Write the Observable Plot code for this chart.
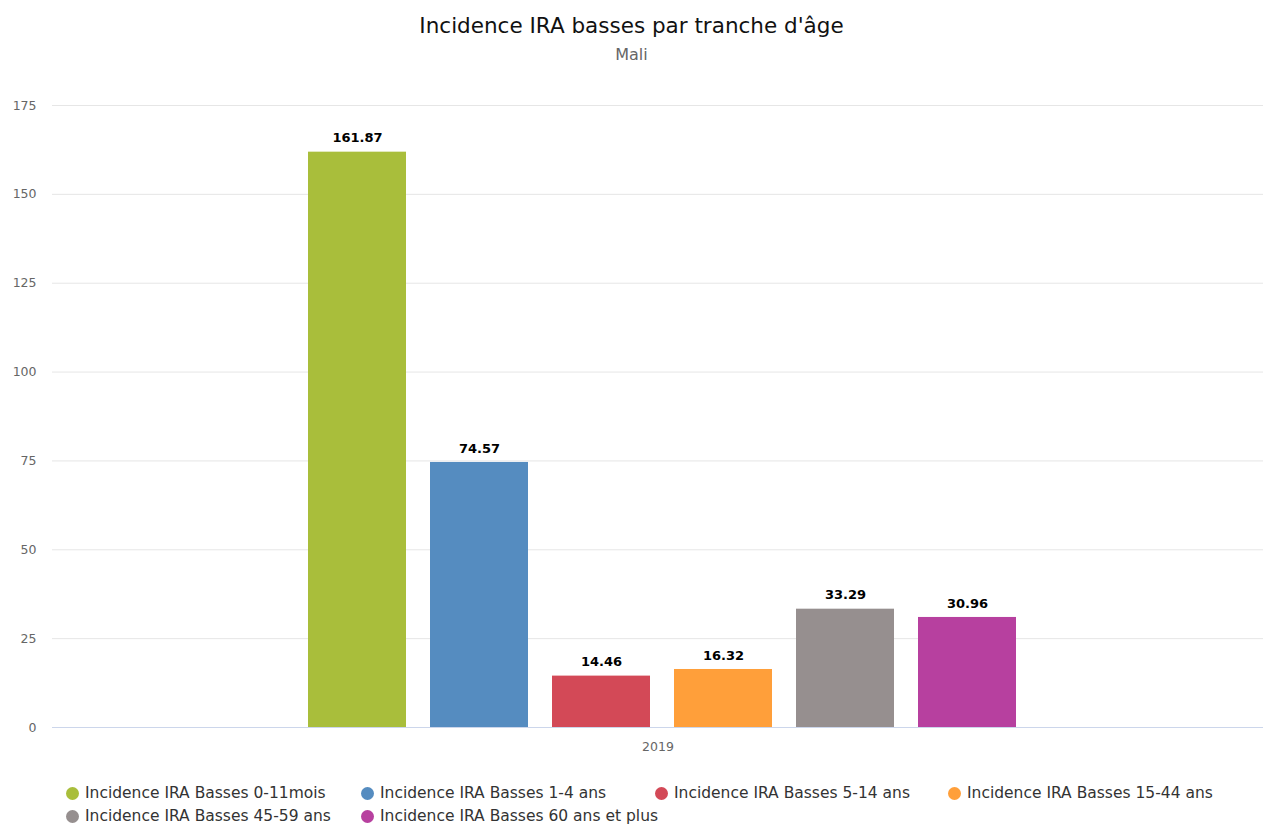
<!DOCTYPE html>
<html>
<head>
<meta charset="utf-8">
<script src="https://cdn.jsdelivr.net/npm/d3@7"></script>
<script src="https://cdn.jsdelivr.net/npm/@observablehq/plot@0.6"></script>
<style>
  body { margin: 0; background: #fff; font-family: "DejaVu Sans", sans-serif; }
  #wrap { position: relative; width: 1263px; height: 827px; }
  #title { position: absolute; top: 13px; left: 0; width: 1263px; text-align: center; font-size: 21.5px; color: #111; }
  #subtitle { position: absolute; top: 45px; left: 0; width: 1263px; text-align: center; font-size: 16px; color: #666; }
  #chart { position: absolute; top: 80px; left: 0; }
  #legend { position: absolute; top: 783px; left: 66px; display: grid; grid-template-columns: 295px 294px 293px 300px; row-gap: 3px; font-size: 15.5px; color: #333; }
  .item { display: flex; align-items: center; white-space: nowrap; height: 20px; }
  .dot { width: 13px; height: 13px; border-radius: 50%; margin-right: 6px; flex: none; }
</style>
</head>
<body>
<div id="wrap">
  <div id="title">Incidence IRA basses par tranche d'âge</div>
  <div id="subtitle">Mali</div>
  <div id="chart"></div>
  <div id="legend"></div>
</div>
<script>
const period = "2019";
const series = [
  "Incidence IRA Basses 0-11mois",
  "Incidence IRA Basses 1-4 ans",
  "Incidence IRA Basses 5-14 ans",
  "Incidence IRA Basses 15-44 ans",
  "Incidence IRA Basses 45-59 ans",
  "Incidence IRA Basses 60 ans et plus"
];
const values = [161.87, 74.57, 14.46, 16.32, 33.29, 30.96];
const colors = ["#a9be3b", "#558cc0", "#d34957", "#ff9f3a", "#968f8f", "#b7409f"];
const yTicks = [0, 25, 50, 75, 100, 125, 150, 175];

const data = series.map((s, i) => ({period, series: s, value: values[i]}));
const font = '"DejaVu Sans", sans-serif';

const chart = Plot.plot({
  width: 1263,
  height: 680,
  marginLeft: 52,
  marginRight: 0,
  marginTop: 25,
  marginBottom: 33,
  style: {fontFamily: font, fontSize: "12px", color: "#666", background: "#fff"},
  fx: {domain: [period], padding: 0, label: null, axis: null},
  x: {domain: series, paddingInner: 0.198, paddingOuter: 2.055, align: 0.508, axis: null},
  y: {domain: [0, 175], ticks: yTicks, label: null, grid: false},
  color: {domain: series, range: colors},
  marks: [
    Plot.gridY(yTicks.filter(t => t > 0), {stroke: "#e6e6e6", strokeOpacity: 1}),
    Plot.axisY(yTicks, {tickSize: 0, tickPadding: 16, fill: "#666", fontSize: 12.5, label: null}),
    Plot.barY(data, {fx: "period", x: "series", y: "value", fill: "series"}),
    Plot.text(data, {fx: "period", x: "series", y: "value", text: d => d.value.toFixed(2), dy: -14,
      fill: "#000", fontWeight: "bold", fontSize: 13, stroke: "white", strokeWidth: 2, paintOrder: "stroke"}),
    Plot.ruleY([0], {stroke: "#ccd6eb"}),
    Plot.axisFx({anchor: "bottom", tickSize: 0, tickPadding: 15, fill: "#666", fontSize: 12.5, label: null})
  ]
});
document.getElementById("chart").appendChild(chart);

const legend = document.getElementById("legend");
series.forEach((s, i) => {
  const it = document.createElement("div");
  it.className = "item";
  it.innerHTML = `<span class="dot" style="background:${colors[i]}"></span><span>${s}</span>`;
  legend.appendChild(it);
});
</script>
</body>
</html>
